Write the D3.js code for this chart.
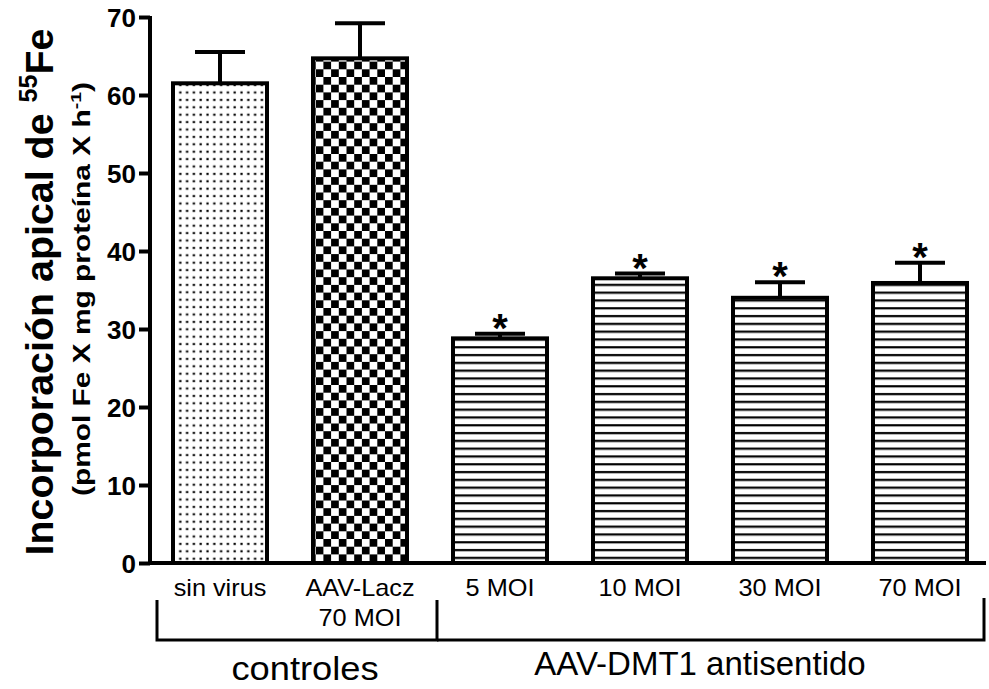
<!DOCTYPE html>
<html><head><meta charset="utf-8">
<script src="https://cdn.jsdelivr.net/npm/d3@7"></script>
<style>body{margin:0;background:#fff}svg{display:block}</style>
</head><body>
<script>
const categories = ["sin virus", "AAV-Lacz|70 MOI", "5 MOI", "10 MOI", "30 MOI", "70 MOI"];
const values = [61.5, 64.7, 28.8, 36.5, 34.0, 35.9];
const errors = [4.0, 4.5, 0.6, 0.6, 2.0, 2.6];
const patterns = ["dots", "checker", "stripes", "stripes", "stripes", "stripes"];
const significant = [false, false, true, true, true, true];
const yTicks = [0, 10, 20, 30, 40, 50, 60, 70];
const groups = [
  {label: "controles", from: 0, to: 1},
  {label: "AAV-DMT1 antisentido", from: 2, to: 5}
];

const W = 989, H = 689;
const FONT = "Liberation Sans, Arial, sans-serif";
const svg = d3.select("body").append("svg").attr("width", W).attr("height", H);
const defs = svg.append("defs");

// patterns
const pd = defs.append("pattern").attr("id","dots").attr("patternUnits","userSpaceOnUse")
  .attr("width",6.8).attr("height",7.4);
pd.append("rect").attr("width",6.8).attr("height",7.4).attr("fill","#fff");
pd.append("rect").attr("x",2.4).attr("y",2.6).attr("width",2.2).attr("height",2.2).attr("fill","#000");

const pc = defs.append("pattern").attr("id","checker").attr("patternUnits","userSpaceOnUse")
  .attr("width",15.4).attr("height",15.4);
pc.append("rect").attr("width",15.4).attr("height",15.4).attr("fill","#fff");
pc.append("rect").attr("width",7.7).attr("height",7.7).attr("fill","#000");
pc.append("rect").attr("x",7.7).attr("y",7.7).attr("width",7.7).attr("height",7.7).attr("fill","#000");

const ps = defs.append("pattern").attr("id","stripes").attr("patternUnits","userSpaceOnUse")
  .attr("width",10).attr("height",7.8);
ps.append("rect").attr("width",10).attr("height",7.8).attr("fill","#fff");
ps.append("rect").attr("y",3).attr("width",10).attr("height",2.2).attr("fill","#000");

const y = d3.scaleLinear().domain([0,70]).range([563,17]);
const x = d3.scaleBand().domain(categories).range([150,990]).paddingInner(0.3).paddingOuter(0.15);

// bars
svg.selectAll("rect.bar").data(categories).join("rect").attr("class","bar")
  .attr("x", d => x(d)+2).attr("width", x.bandwidth()-4)
  .attr("y", (d,i) => y(values[i])).attr("height", (d,i) => y(0)-y(values[i]))
  .attr("fill", (d,i) => `url(#${patterns[i]})`)
  .attr("stroke","#000").attr("stroke-width",4);

// error bars
const eb = svg.append("g").attr("stroke","#000").attr("stroke-width",4);
categories.forEach((c,i) => {
  const cx = x(c) + x.bandwidth()/2;
  eb.append("line").attr("x1",cx).attr("x2",cx).attr("y1",y(values[i])).attr("y2",y(values[i]+errors[i]));
  eb.append("line").attr("x1",cx-25).attr("x2",cx+25).attr("y1",y(values[i]+errors[i])).attr("y2",y(values[i]+errors[i]));
  if (significant[i]) {
    svg.append("text").attr("x",cx).attr("y",y(values[i]+errors[i])+8)
      .attr("text-anchor","middle").attr("font-family",FONT)
      .attr("font-weight","bold").attr("font-size",40).text("*");
  }
});

// y axis
const yAxis = d3.axisLeft(y).tickValues(yTicks).tickSize(11).tickPadding(3);
const ga = svg.append("g").attr("transform","translate(150,0)").call(yAxis);
ga.select(".domain").remove();
ga.selectAll(".tick line").attr("stroke","#000").attr("stroke-width",4);
ga.selectAll(".tick text").attr("font-family",FONT)
  .attr("font-weight","bold").attr("font-size",26).attr("fill","#000").attr("dy","0.36em");
svg.append("line").attr("x1",150).attr("x2",150).attr("y1",y(70)-1).attr("y2",y(0)+2)
  .attr("stroke","#000").attr("stroke-width",4);
// x baseline
svg.append("line").attr("x1",148).attr("x2",986).attr("y1",y(0)).attr("y2",y(0))
  .attr("stroke","#000").attr("stroke-width",4);

// x labels
const xl = svg.append("g").attr("font-family",FONT).attr("font-size",23);
categories.forEach(c => {
  const cx = x(c) + x.bandwidth()/2;
  const parts = c.split("|");
  parts.forEach((p,k) => {
    xl.append("text").attr("text-anchor","middle")
      .attr("transform",`translate(${cx},${596 + k*30}) scale(1.1,1)`).text(p);
  });
});

// group brackets
const bg = svg.append("g").attr("stroke","#000").attr("stroke-width",3).attr("fill","none");
const bx = [157, 437, 984];
bg.append("path").attr("d",`M${bx[0]},600V640H${bx[1]}V600`);
bg.append("path").attr("d",`M${bx[1]},640H${bx[2]}V598`);
const gl = svg.append("g").attr("font-family",FONT).attr("font-size",33);
gl.append("text").attr("text-anchor","middle").attr("transform","translate(305,680) scale(1.1,1)").text(groups[0].label);
gl.append("text").attr("text-anchor","middle").attr("x",700).attr("y",675).text(groups[1].label);

// y titles
const t1 = svg.append("text").attr("transform","translate(53,292) rotate(-90) scale(1.01,1)")
  .attr("text-anchor","middle").attr("font-family",FONT)
  .attr("font-weight","bold").attr("font-size",39);
t1.append("tspan").text("Incorporación apical de ");
t1.append("tspan").attr("font-size",25).attr("dy",-16).text("55");
t1.append("tspan").attr("dy",16).text("Fe");
const t2 = svg.append("text").attr("transform","translate(90,289) rotate(-90) scale(1.3,1)")
  .attr("text-anchor","middle").attr("font-family",FONT)
  .attr("font-weight","bold").attr("font-size",23);
t2.append("tspan").text("(pmol Fe X mg proteína X h");
t2.append("tspan").attr("font-size",15).attr("dy",-9).text("-1");
t2.append("tspan").attr("dy",9).text(")");
</script>
</body></html>
